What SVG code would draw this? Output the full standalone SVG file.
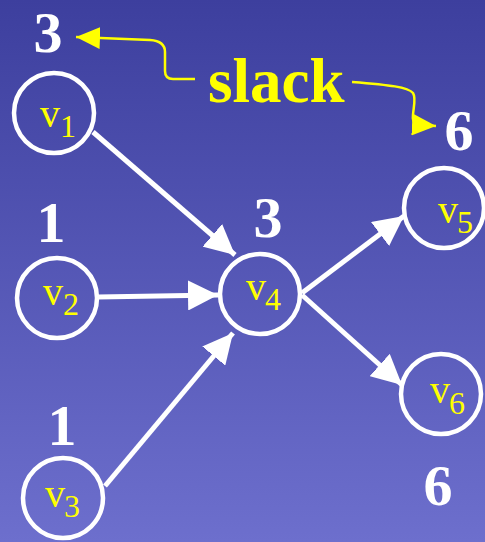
<svg xmlns="http://www.w3.org/2000/svg" width="485" height="542" viewBox="0 0 485 542">
  <defs>
    <linearGradient id="bg" x1="0" y1="0" x2="0" y2="1">
      <stop offset="0" stop-color="#3d3f9e"/>
      <stop offset="1" stop-color="#6d6fcd"/>
    </linearGradient>
    <marker id="head" markerUnits="userSpaceOnUse" markerWidth="30" markerHeight="30" refX="30" refY="15" orient="auto">
      <path d="M0,0 L30,15 L0,30 z" fill="#ffffff"/>
    </marker>
    <marker id="yhead" markerUnits="userSpaceOnUse" markerWidth="24" markerHeight="22" refX="24" refY="11" orient="auto">
      <path d="M0,0 L24,11 L0,22 z" fill="#ffff00"/>
    </marker>
  </defs>
  <style>
    .node circle { fill: none; stroke: #ffffff; stroke-width: 4.5; }
    .lbl { font-family: "Liberation Serif", "Times New Roman", serif; font-size: 40px; fill: #ffff00; }
    .sub { font-size: 32px; }
    .num { font-family: "Liberation Serif", "Times New Roman", serif; font-size: 58px; font-weight: bold; fill: #ffffff; text-anchor: middle; }
    .edge { stroke: #ffffff; stroke-width: 5; fill: none; marker-end: url(#head); }
    .slack { font-family: "Liberation Serif", "Times New Roman", serif; font-size: 63px; font-weight: bold; fill: #ffff00; }
    .ycurve { stroke: #ffff00; stroke-width: 2.5; fill: none; marker-end: url(#yhead); }
  </style>

  <rect x="0" y="0" width="485" height="542" fill="url(#bg)"/>

  <g id="edges">
    <line class="edge" x1="93" y1="132" x2="235" y2="255"/>
    <line class="edge" x1="98" y1="297" x2="218" y2="295"/>
    <line class="edge" x1="105" y1="486" x2="233" y2="333"/>
    <line class="edge" x1="302" y1="293" x2="404" y2="216"/>
    <line class="edge" x1="302" y1="295" x2="402" y2="385"/>
  </g>

  <g id="v1" class="node">
    <circle cx="54" cy="113" r="40"/>
    <text class="lbl" x="40" y="127">v<tspan class="sub" x="60" y="137">1</tspan></text>
  </g>
  <g id="v2" class="node">
    <circle cx="57" cy="298" r="40"/>
    <text class="lbl" x="43" y="305">v<tspan class="sub" x="63" y="315">2</tspan></text>
  </g>
  <g id="v3" class="node">
    <circle cx="63" cy="498" r="40"/>
    <text class="lbl" x="45" y="507">v<tspan class="sub" x="64" y="517">3</tspan></text>
  </g>
  <g id="v4" class="node">
    <circle cx="260" cy="294" r="40"/>
    <text class="lbl" x="246" y="300">v<tspan class="sub" x="265" y="310">4</tspan></text>
  </g>
  <g id="v5" class="node">
    <circle cx="444" cy="208" r="40"/>
    <text class="lbl" x="438" y="223">v<tspan class="sub" x="457" y="233">5</tspan></text>
  </g>
  <g id="v6" class="node">
    <circle cx="441" cy="394" r="40"/>
    <text class="lbl" x="430" y="403">v<tspan class="sub" x="449" y="414">6</tspan></text>
  </g>

  <g id="numbers">
    <text class="num" x="48" y="52">3</text>
    <text class="num" x="459" y="150">6</text>
    <text class="num" x="51" y="242">1</text>
    <text class="num" x="268" y="237">3</text>
    <text class="num" x="62" y="445">1</text>
    <text class="num" x="438" y="505">6</text>
  </g>

  <g id="slack">
    <text class="slack" x="208" y="102">slack</text>
    <path class="ycurve" d="M195,79 L173,79 Q165,79 165,71 L165,52 Q165,41 150,40 L76,37"/>
    <path class="ycurve" d="M352,82 C390,85 408,87 413,93 C417,99 412,112 413,119 Q414,125 420,125 L436,126"/>
  </g>
</svg>
